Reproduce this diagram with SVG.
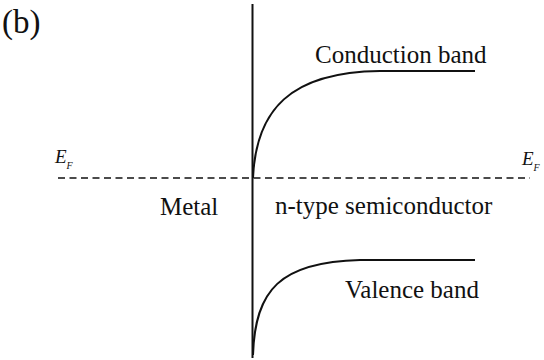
<svg xmlns="http://www.w3.org/2000/svg" width="544" height="360" viewBox="0 0 544 360">
<style>
text{font-family:'Liberation Serif','Times New Roman','DejaVu Serif',serif;fill:#111}
.lbl{font-size:25px}
.ef{font-size:19px;font-style:italic}
.sub{font-size:10px;font-style:italic}
.ln{fill:none;stroke:#111;stroke-width:2}
</style>
<rect width="544" height="360" fill="#fff"/>
<g id="title"><text x="2" y="33" font-size="33">(b)</text></g>
<g id="connectors">
<line class="ln" x1="252.5" y1="4" x2="252.5" y2="358"/>
<line x1="58" y1="178" x2="530" y2="178" stroke="#111" stroke-width="1.6" stroke-dasharray="7,4.5"/>
<path id="cb" class="ln" d="M253,178 C256,110 290,72 380,71 L475,71"/>
<path id="vb" class="ln" d="M253,355 C255,290 280,262 360,260 L475,260"/>
</g>
<g id="conduction"><text class="lbl" x="315" y="63">Conduction band</text></g>
<g id="valence"><text class="lbl" x="345" y="298">Valence band</text></g>
<g id="metal"><text class="lbl" x="160" y="215">Metal</text></g>
<g id="semi"><text class="lbl" x="275" y="214">n-type semiconductor</text></g>
<g id="efl"><text class="ef" x="55" y="163">E</text><text class="sub" x="66.5" y="168.5">F</text></g>
<g id="efr"><text class="ef" x="522" y="165">E</text><text class="sub" x="533.5" y="170.5">F</text></g>
</svg>
